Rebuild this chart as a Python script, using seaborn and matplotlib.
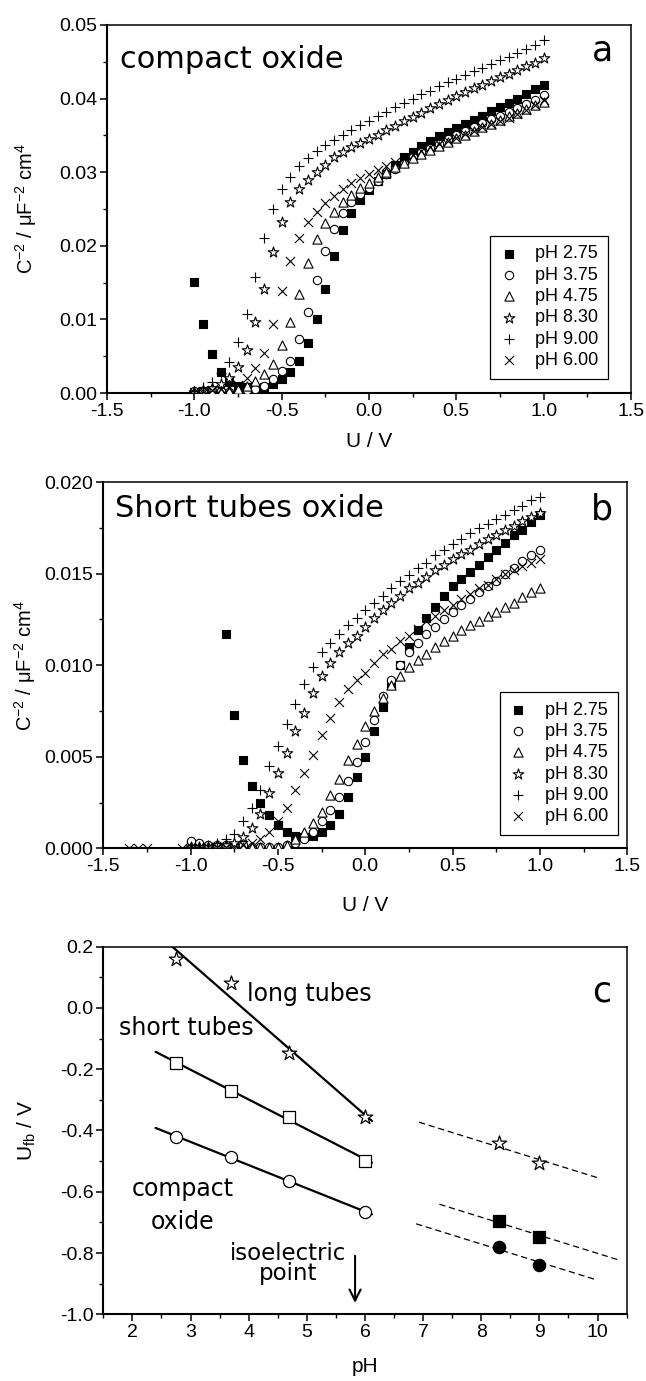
import numpy as np
import pandas as pd
import matplotlib
matplotlib.use("Agg")
import matplotlib.pyplot as plt
import seaborn as sns
from matplotlib.ticker import MultipleLocator, FormatStrFormatter

# ---------------- data: panel a (compact oxide) ----------------
U_a = [-1.00, -0.95, -0.90, -0.85, -0.80, -0.75, -0.70, -0.65, -0.60, -0.55,
       -0.50, -0.45, -0.40, -0.35, -0.30, -0.25, -0.20, -0.15, -0.10, -0.05,
       0.00, 0.05, 0.10, 0.15, 0.20, 0.25, 0.30, 0.35, 0.40, 0.45,
       0.50, 0.55, 0.60, 0.65, 0.70, 0.75, 0.80, 0.85, 0.90, 0.95, 1.00]
a_ph275 = [0.0151, 0.0094, 0.0053, 0.0029, 0.0015, 0.0010, 0.0008, 0.0007, 0.0008, 0.0012,
           0.0019, 0.0028, 0.0043, 0.0068, 0.0101, 0.0142, 0.0186, 0.0221, 0.0245, 0.0262,
           0.0276, 0.0288, 0.0298, 0.0310, 0.0321, 0.0328, 0.0335, 0.0342, 0.0349, 0.0354,
           0.0360, 0.0366, 0.0371, 0.0377, 0.0383, 0.0388, 0.0394, 0.0400, 0.0406, 0.0413, 0.0419]
a_ph375 = [0.0003, 0.0003, 0.0003, 0.0003, 0.0002, 0.0002, 0.0004, 0.0006, 0.0010, 0.0019,
           0.0030, 0.0044, 0.0073, 0.0110, 0.0154, 0.0193, 0.0223, 0.0244, 0.0259, 0.0270,
           0.0279, 0.0288, 0.0297, 0.0305, 0.0313, 0.0320, 0.0327, 0.0333, 0.0339, 0.0345,
           0.0350, 0.0356, 0.0361, 0.0367, 0.0372, 0.0377, 0.0382, 0.0387, 0.0392, 0.0398, 0.0405]
a_ph475 = [0.0002, 0.0002, 0.0002, 0.0002, 0.0003, 0.0005, 0.0010, 0.0017, 0.0026, 0.0040,
           0.0065, 0.0096, 0.0135, 0.0176, 0.0209, 0.0231, 0.0246, 0.0259, 0.0269, 0.0278,
           0.0286, 0.0293, 0.0300, 0.0307, 0.0313, 0.0319, 0.0325, 0.0330, 0.0336, 0.0341,
           0.0346, 0.0351, 0.0356, 0.0361, 0.0366, 0.0371, 0.0376, 0.0381, 0.0386, 0.0391, 0.0396]
a_ph830 = [0.0002, 0.0004, 0.0007, 0.0012, 0.0020, 0.0035, 0.0058, 0.0096, 0.0142, 0.0192,
           0.0233, 0.0259, 0.0277, 0.0289, 0.0300, 0.0310, 0.0320, 0.0327, 0.0334, 0.0340,
           0.0345, 0.0351, 0.0357, 0.0363, 0.0369, 0.0375, 0.0381, 0.0387, 0.0393, 0.0398,
           0.0404, 0.0409, 0.0414, 0.0419, 0.0424, 0.0429, 0.0434, 0.0439, 0.0444, 0.0449, 0.0455]
a_ph900 = [0.0003, 0.0008, 0.0015, 0.0027, 0.0042, 0.0070, 0.0108, 0.0158, 0.0210, 0.0250,
           0.0277, 0.0294, 0.0308, 0.0319, 0.0329, 0.0337, 0.0344, 0.0351, 0.0357, 0.0364,
           0.0370, 0.0376, 0.0382, 0.0388, 0.0394, 0.0400, 0.0406, 0.0411, 0.0417, 0.0422,
           0.0427, 0.0432, 0.0437, 0.0442, 0.0447, 0.0452, 0.0457, 0.0462, 0.0467, 0.0473, 0.0480]
a_ph600 = [0.0002, 0.0003, 0.0004, 0.0005, 0.0007, 0.0011, 0.0020, 0.0034, 0.0055, 0.0094,
           0.0138, 0.0179, 0.0210, 0.0233, 0.0246, 0.0258, 0.0268, 0.0277, 0.0285, 0.0292,
           0.0298, 0.0303, 0.0309, 0.0314, 0.0319, 0.0324, 0.0329, 0.0334, 0.0338, 0.0343,
           0.0347, 0.0352, 0.0356, 0.0361, 0.0365, 0.0370, 0.0374, 0.0379, 0.0384, 0.0391, 0.0398]

# ---------------- data: panel b (short tubes oxide) ----------------
U_b = list(U_a)
U_b_ph275 = [-0.80, -0.75, -0.70, -0.65, -0.60, -0.55, -0.50, -0.45, -0.40, -0.35,
             -0.30, -0.25, -0.20, -0.15, -0.10, -0.05, 0.00, 0.05, 0.10, 0.15,
             0.20, 0.25, 0.30, 0.35, 0.40, 0.45, 0.50, 0.55, 0.60, 0.65,
             0.70, 0.75, 0.80, 0.85, 0.90, 0.95, 1.00]
b_ph275 = [0.0117, 0.0073, 0.0048, 0.0034, 0.0025, 0.0018, 0.0013, 0.0009, 0.0007, 0.0006,
           0.0007, 0.0009, 0.0013, 0.0019, 0.0028, 0.0039, 0.0050, 0.0064, 0.0077, 0.0089,
           0.0100, 0.0110, 0.0119, 0.0126, 0.0132, 0.0138, 0.0143, 0.0147, 0.0151, 0.0155,
           0.0159, 0.0163, 0.0167, 0.0171, 0.0174, 0.0178, 0.0182]
b_ph375 = [0.0004, 0.0003, 0.0002, 0.0002, 0.0002, 0.0002, 0.0002, 0.0001, 0.0001, 0.0001,
           0.0001, 0.0002, 0.0003, 0.0005, 0.0009, 0.0015, 0.0021, 0.0028, 0.0037, 0.0047,
           0.0058, 0.0070, 0.0083, 0.0092, 0.0100, 0.0107, 0.0112, 0.0117, 0.0121, 0.0125,
           0.0129, 0.0133, 0.0136, 0.0140, 0.0143, 0.0146, 0.0150, 0.0153, 0.0157, 0.0160, 0.0163]
b_ph475 = [0.0001, 0.0001, 0.0001, 0.0001, 0.0001, 0.0001, 0.0001, 0.0001, 0.0001, 0.0001,
           0.0001, 0.0002, 0.0005, 0.0009, 0.0014, 0.0020, 0.0029, 0.0038, 0.0048, 0.0057,
           0.0067, 0.0075, 0.0082, 0.0089, 0.0094, 0.0099, 0.0103, 0.0106, 0.0110, 0.0113,
           0.0116, 0.0119, 0.0122, 0.0124, 0.0127, 0.0129, 0.0132, 0.0134, 0.0137, 0.0140, 0.0142]
b_ph830 = [0.0001, 0.0001, 0.0001, 0.0002, 0.0002, 0.0003, 0.0006, 0.0011, 0.0019, 0.0030,
           0.0041, 0.0052, 0.0064, 0.0074, 0.0085, 0.0094, 0.0101, 0.0107, 0.0112, 0.0116,
           0.0121, 0.0126, 0.0130, 0.0134, 0.0138, 0.0142, 0.0145, 0.0148, 0.0152, 0.0155,
           0.0158, 0.0161, 0.0163, 0.0166, 0.0169, 0.0171, 0.0174, 0.0176, 0.0179, 0.0181, 0.0183]
b_ph900 = [0.0001, 0.0001, 0.0002, 0.0003, 0.0005, 0.0008, 0.0015, 0.0022, 0.0032, 0.0045,
           0.0056, 0.0068, 0.0079, 0.0090, 0.0099, 0.0107, 0.0112, 0.0117, 0.0122, 0.0126,
           0.0130, 0.0134, 0.0138, 0.0142, 0.0146, 0.0149, 0.0153, 0.0156, 0.0160, 0.0163,
           0.0166, 0.0169, 0.0172, 0.0175, 0.0177, 0.0180, 0.0182, 0.0185, 0.0187, 0.0190, 0.0192]
U_b_ph600 = [-1.35, -1.30, -1.25, -1.05] + U_b
b_ph600 = [0.0000, 0.0000, 0.0000, 0.0000,
           0.0001, 0.0001, 0.0001, 0.0001, 0.0001, 0.0001, 0.0002, 0.0003, 0.0005, 0.0009,
           0.0015, 0.0022, 0.0032, 0.0041, 0.0051, 0.0062, 0.0071, 0.0080, 0.0087, 0.0092,
           0.0096, 0.0101, 0.0106, 0.0109, 0.0113, 0.0116, 0.0120, 0.0124, 0.0127, 0.0130,
           0.0133, 0.0136, 0.0139, 0.0142, 0.0144, 0.0147, 0.0150, 0.0152, 0.0154, 0.0156, 0.0158]

series_labels = ["pH 2.75", "pH 3.75", "pH 4.75", "pH 8.30", "pH 9.00", "pH 6.00"]

# ---------------- data: panel c (flat band potential) ----------------
pH_low = [2.75, 3.70, 4.70, 6.00]
Ufb_long = [0.160, 0.082, -0.148, -0.355]
Ufb_short = [-0.181, -0.270, -0.357, -0.499]
Ufb_compact = [-0.422, -0.486, -0.564, -0.667]
pH_high = [8.30, 9.00]
Ufb_long_high = [-0.442, -0.507]
Ufb_short_high = [-0.696, -0.747]
Ufb_compact_high = [-0.779, -0.839]
nernst_slope = -0.059          # V per pH unit (dashed guide lines)
isoelectric_pH = 5.83

# ---------------- style ----------------
sns.set_style("ticks")
plt.rcParams["font.family"] = ["Liberation Sans", "DejaVu Sans"]
plt.rcParams["axes.unicode_minus"] = False
plt.rcParams["mathtext.fontset"] = "custom"
plt.rcParams["mathtext.rm"] = "Liberation Sans"
plt.rcParams["mathtext.it"] = "Liberation Sans:italic"
plt.rcParams["mathtext.default"] = "regular"
for key in ["text.color", "axes.labelcolor", "xtick.color", "ytick.color", "axes.edgecolor"]:
    plt.rcParams[key] = "black"
TXT = ["DejaVu Sans"]

fig = plt.figure(figsize=(6.46, 13.81), dpi=100)
ax_a = fig.add_axes([0.1656, 0.7154, 0.8111, 0.2665])
ax_b = fig.add_axes([0.1599, 0.3857, 0.8111, 0.2652])
ax_c = fig.add_axes([0.1599, 0.0483, 0.8101, 0.2662])


def style_axes(ax):
    for side in ["left", "bottom"]:
        ax.spines[side].set_linewidth(1.5)
    for side in ["top", "right"]:
        ax.spines[side].set_linewidth(1.1)
        ax.spines[side].set_visible(True)
    ax.tick_params(which="major", direction="out", length=5, width=1.1,
                   labelsize=14, colors="black", pad=2)
    ax.tick_params(which="minor", direction="out", length=3, width=1.0)
    ax.tick_params(top=False, right=False, which="both")


def pts(ax, x, y, marker, s, fill="white", label=None, lw=0.8):
    if marker in ("+", "x"):
        sns.scatterplot(x=x, y=y, ax=ax, marker=marker, s=s, color="black",
                        linewidth=lw, label=label, zorder=3)
    else:
        sns.scatterplot(x=x, y=y, ax=ax, marker=marker, s=s, facecolor=fill,
                        edgecolor="black", linewidth=lw, label=label, zorder=3)


def cv_panel(ax, series, ylim, ymaj, ymin, yfmt):
    markers = [("s", 30, "black"), ("o", 36, "white"), ("^", 44, "white"),
               ("*", 64, "white"), ("+", 46, None), ("x", 42, None)]
    for (x, y), (m, s, f), lab in zip(series, markers, series_labels):
        pts(ax, x, y, m, s, fill=f if f else "white", label=lab)
    ax.set_xlim(-1.5, 1.5)
    ax.set_ylim(*ylim)
    ax.xaxis.set_major_locator(MultipleLocator(0.5))
    ax.xaxis.set_minor_locator(MultipleLocator(0.25))
    ax.yaxis.set_major_locator(MultipleLocator(ymaj))
    ax.yaxis.set_minor_locator(MultipleLocator(ymin))
    ax.xaxis.set_major_formatter(FormatStrFormatter("%.1f"))
    ax.yaxis.set_major_formatter(FormatStrFormatter(yfmt))
    ax.set_xlabel("U / V", fontsize=15)
    ax.set_ylabel("C$^{-2}$ / μF$^{-2}$ cm$^{4}$", fontsize=14.5)
    style_axes(ax)


def make_legend(ax, anchor):
    leg = ax.legend(loc="lower right", bbox_to_anchor=anchor, borderaxespad=0,
                    fontsize=13, frameon=True, fancybox=False, edgecolor="black",
                    framealpha=1, handletextpad=1.0, labelspacing=0.24,
                    borderpad=0.55, handlelength=0.9)
    leg.get_frame().set_linewidth(0.9)


# ---------------- panel a ----------------
cv_panel(ax_a,
         [(U_a, a_ph275), (U_a, a_ph375), (U_a, a_ph475),
          (U_a, a_ph830), (U_a, a_ph900), (U_a, a_ph600)],
         (0, 0.05), 0.01, 0.005, "%.2f")
make_legend(ax_a, (0.956, 0.038))
ax_a.text(0.025, 0.905, "compact oxide", transform=ax_a.transAxes, fontsize=22,
          family=TXT, va="center", ha="left")
ax_a.text(0.945, 0.93, "a", transform=ax_a.transAxes, fontsize=25,
          family=TXT, va="center", ha="center")
ax_a.xaxis.set_label_coords(0.5, -0.105)
ax_a.yaxis.set_label_coords(-0.13, 0.5)

# ---------------- panel b ----------------
cv_panel(ax_b,
         [(U_b_ph275, b_ph275), (U_b, b_ph375), (U_b, b_ph475),
          (U_b, b_ph830), (U_b, b_ph900), (U_b_ph600, b_ph600)],
         (0, 0.020), 0.005, 0.0025, "%.3f")
make_legend(ax_b, (0.982, 0.036))
ax_b.text(0.022, 0.929, "Short tubes oxide", transform=ax_b.transAxes, fontsize=22,
          family=TXT, va="center", ha="left")
ax_b.text(0.952, 0.926, "b", transform=ax_b.transAxes, fontsize=25,
          family=TXT, va="center", ha="center")
ax_b.xaxis.set_label_coords(0.5, -0.13)
ax_b.yaxis.set_label_coords(-0.125, 0.5)

# ---------------- panel c ----------------
fit_range = [2.40, 6.12]
for yv in (Ufb_long, Ufb_short, Ufb_compact):
    k, b0 = np.polyfit(pH_low, yv, 1)
    xs = np.array(fit_range)
    sns.lineplot(x=xs, y=k * xs + b0, ax=ax_c, color="black", linewidth=1.6, zorder=2)

guide_ranges = [(6.93, 10.0), (7.28, 10.35), (6.88, 9.98)]
for yv, (x0, x1) in zip((Ufb_long_high, Ufb_short_high, Ufb_compact_high), guide_ranges):
    xm, ym = np.mean(pH_high), np.mean(yv)
    xs = np.array([x0, x1])
    sns.lineplot(x=xs, y=ym + nernst_slope * (xs - xm), ax=ax_c, color="black",
                 linewidth=0.9, linestyle=(0, (5, 3)), zorder=2)

pts(ax_c, pH_low, Ufb_long, "*", 120, "white", lw=0.9)
pts(ax_c, pH_low, Ufb_short, "s", 64, "white", lw=0.9)
pts(ax_c, pH_low, Ufb_compact, "o", 76, "white", lw=0.9)
pts(ax_c, pH_high, Ufb_long_high, "*", 120, "white", lw=0.9)
pts(ax_c, pH_high, Ufb_short_high, "s", 68, "black", lw=0.9)
pts(ax_c, pH_high, Ufb_compact_high, "o", 78, "black", lw=0.9)

ax_c.set_xlim(1.5, 10.5)
ax_c.set_ylim(-1.0, 0.2)
ax_c.xaxis.set_major_locator(MultipleLocator(1))
ax_c.xaxis.set_minor_locator(MultipleLocator(0.5))
ax_c.yaxis.set_major_locator(MultipleLocator(0.2))
ax_c.yaxis.set_minor_locator(MultipleLocator(0.1))
ax_c.xaxis.set_major_formatter(FormatStrFormatter("%d"))
ax_c.yaxis.set_major_formatter(FormatStrFormatter("%.1f"))
ax_c.set_xlabel("pH", fontsize=15)
ax_c.set_ylabel("U$_{\\mathrm{fb}}$ / V", fontsize=15)
style_axes(ax_c)
ax_c.xaxis.set_label_coords(0.5, -0.115)
ax_c.yaxis.set_label_coords(-0.125, 0.5)

ax_c.text(5.04, 0.046, "long tubes", fontsize=17, family=TXT, ha="center", va="center")
ax_c.text(2.92, -0.065, "short tubes", fontsize=17, family=TXT, ha="center", va="center")
ax_c.text(2.86, -0.590, "compact", fontsize=17, family=TXT, ha="center", va="center")
ax_c.text(2.86, -0.700, "oxide", fontsize=17, family=TXT, ha="center", va="center")
ax_c.text(4.67, -0.800, "isoelectric", fontsize=16.5, family=TXT, ha="center", va="center")
ax_c.text(4.67, -0.868, "point", fontsize=16.5, family=TXT, ha="center", va="center")
ax_c.annotate("", xy=(isoelectric_pH, -0.972), xytext=(isoelectric_pH, -0.80),
              arrowprops=dict(arrowstyle="->", lw=1.5, color="black", mutation_scale=20))
ax_c.text(0.953, 0.879, "c", transform=ax_c.transAxes, fontsize=25,
          family=TXT, va="center", ha="center")

fig.savefig("out.png", dpi=100)
